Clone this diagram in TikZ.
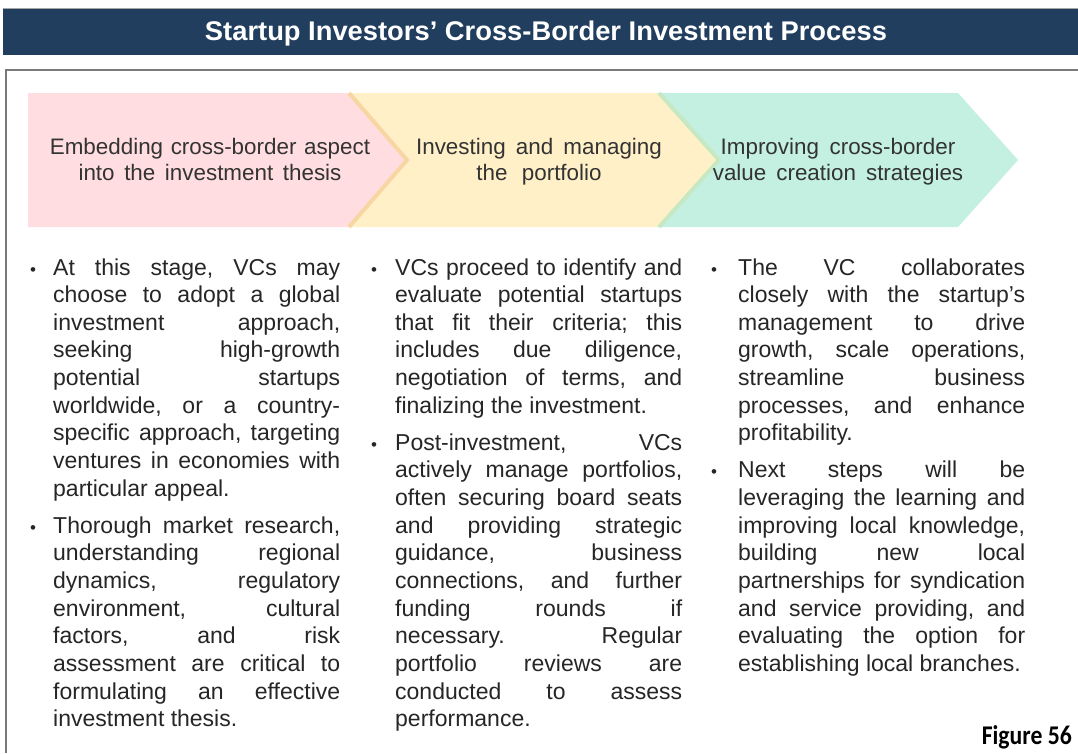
\documentclass[tikz,border=0pt]{standalone}
\usepackage{fontspec}
\usepackage{graphicx}
\setmainfont{Liberation Sans}
\newfontfamily\figfont{Carlito}
\definecolor{navy}{HTML}{213E5E}
\definecolor{framegray}{HTML}{7A7A7A}
\definecolor{pinkfill}{HTML}{FFDDE0}
\definecolor{yellowfill}{HTML}{FFF0C8}
\definecolor{greenfill}{HTML}{C4F0E2}
\definecolor{orangeedge}{HTML}{F8D6A4}
\definecolor{greenedge}{HTML}{C6E8C2}
\definecolor{headtext}{HTML}{333333}
\definecolor{bodytext}{HTML}{262626}
\newcommand{\jl}[1]{\makebox[287pt][s]{\frenchspacing\spaceskip=0.278em plus 1fill minus 0.1em\relax #1}}
\tikzset{
  body/.style={anchor=base west, inner sep=0pt, text width=287pt, align=left,
    text=bodytext, font=\fontsize{23}{27.65}\selectfont,
    execute at begin node={\frenchspacing\spaceskip=0pt\xspaceskip=0pt\relax}},
  bul/.style={anchor=base west, inner sep=0pt, text=bodytext,
    font=\fontsize{17}{20}\selectfont},
  headlbl/.style={anchor=base, inner sep=0pt, text width=360pt, align=center,
    text=headtext, font=\fontsize{22.4}{26}\selectfont,
    execute at begin node={\spaceskip=0pt\xspaceskip=0pt\relax}},
}
\begin{document}
\begin{tikzpicture}[x=1pt,y=-1pt]
\useasboundingbox (0,0) rectangle (1078,753);
\fill[white] (0,0) rectangle (1078,753);
% title bar
\fill[navy] (3,8) rectangle (1085,55);
\draw[gray!70, line width=1pt] (3,8.5) -- (1085,8.5);
\node[anchor=base, inner sep=0pt, text=white,
  font=\fontsize{27}{30}\selectfont\bfseries] (title) at (546,40.5)
  {\resizebox{682pt}{\height}{Startup Investors’ Cross-Border Investment Process}};
% frame
\draw[framegray, line width=1.8pt] (6,753) -- (6,70) -- (1085,70);
% chevrons
\fill[pinkfill] (28,93) -- (347,93) -- (405,160) -- (347,227) -- (28,227) -- cycle;
\fill[yellowfill] (347,93) -- (657,93) -- (717,160) -- (657,227) -- (347,227) -- (405,160) -- cycle;
\draw[orangeedge, line width=4pt] (349,93) -- (407,160) -- (349,227);
\fill[greenfill] (657,93) -- (958,93) -- (1018,160) -- (958,227) -- (657,227) -- (717,160) -- cycle;
\draw[greenedge, line width=4pt] (659,93) -- (719,160) -- (659,227);
\node[headlbl] (h1) at (210,154) {Embedding cross-border aspect\\into the investment thesis};
\node[headlbl] (h2) at (539,154) {Investing and managing\\the portfolio};
\node[headlbl] (h3) at (838,154) {Improving cross-border\\value creation strategies};
% column 1
\node[body] (p1a) at (53,275) {\jl{At this stage, VCs may}\\
\jl{choose to adopt a global}\\
\jl{investment approach,}\\
\jl{seeking high-growth}\\
\jl{potential startups}\\
\jl{worldwide, or a country-}\\
\jl{specific approach, targeting}\\
\jl{ventures in economies with}\\
particular appeal.};
\node[bul] (b1a) at (30,275) {•};
\node[body] (p1b) at (53,533.2) {\jl{Thorough market research,}\\
\jl{understanding regional}\\
\jl{dynamics, regulatory}\\
\jl{environment, cultural}\\
\jl{factors, and risk}\\
\jl{assessment are critical to}\\
\jl{formulating an effective}\\
investment thesis.};
\node[bul] (b1b) at (30,533.2) {•};
% column 2
\node[body] (p2a) at (395,275) {\jl{VCs proceed to identify and}\\
\jl{evaluate potential startups}\\
\jl{that fit their criteria; this}\\
\jl{includes due diligence,}\\
\jl{negotiation of terms, and}\\
finalizing the investment.};
\node[bul] (b2a) at (371,275) {•};
\node[body] (p2b) at (395,450.3) {\jl{Post-investment, VCs}\\
\jl{actively manage portfolios,}\\
\jl{often securing board seats}\\
\jl{and providing strategic}\\
\jl{guidance, business}\\
\jl{connections, and further}\\
\jl{funding rounds if}\\
\jl{necessary. Regular}\\
\jl{portfolio reviews are}\\
\jl{conducted to assess}\\
performance.};
\node[bul] (b2b) at (371,450.3) {•};
% column 3
\node[body] (p3a) at (738,275) {\jl{The VC collaborates}\\
\jl{closely with the startup’s}\\
\jl{management to drive}\\
\jl{growth, scale operations,}\\
\jl{streamline business}\\
\jl{processes, and enhance}\\
profitability.};
\node[bul] (b3a) at (711,275) {•};
\node[body] (p3b) at (738,477.9) {\jl{Next steps will be}\\
\jl{leveraging the learning and}\\
\jl{improving local knowledge,}\\
\jl{building new local}\\
\jl{partnerships for syndication}\\
\jl{and service providing, and}\\
\jl{evaluating the option for}\\
establishing local branches.};
\node[bul] (b3b) at (711,477.9) {•};
% figure label
\node[anchor=base east, inner sep=0pt, text=black,
  font=\figfont\fontsize{27}{30}\selectfont\bfseries] (fig) at (1072,744)
  {\resizebox{90pt}{\height}{Figure 56}};
\end{tikzpicture}
\end{document}
